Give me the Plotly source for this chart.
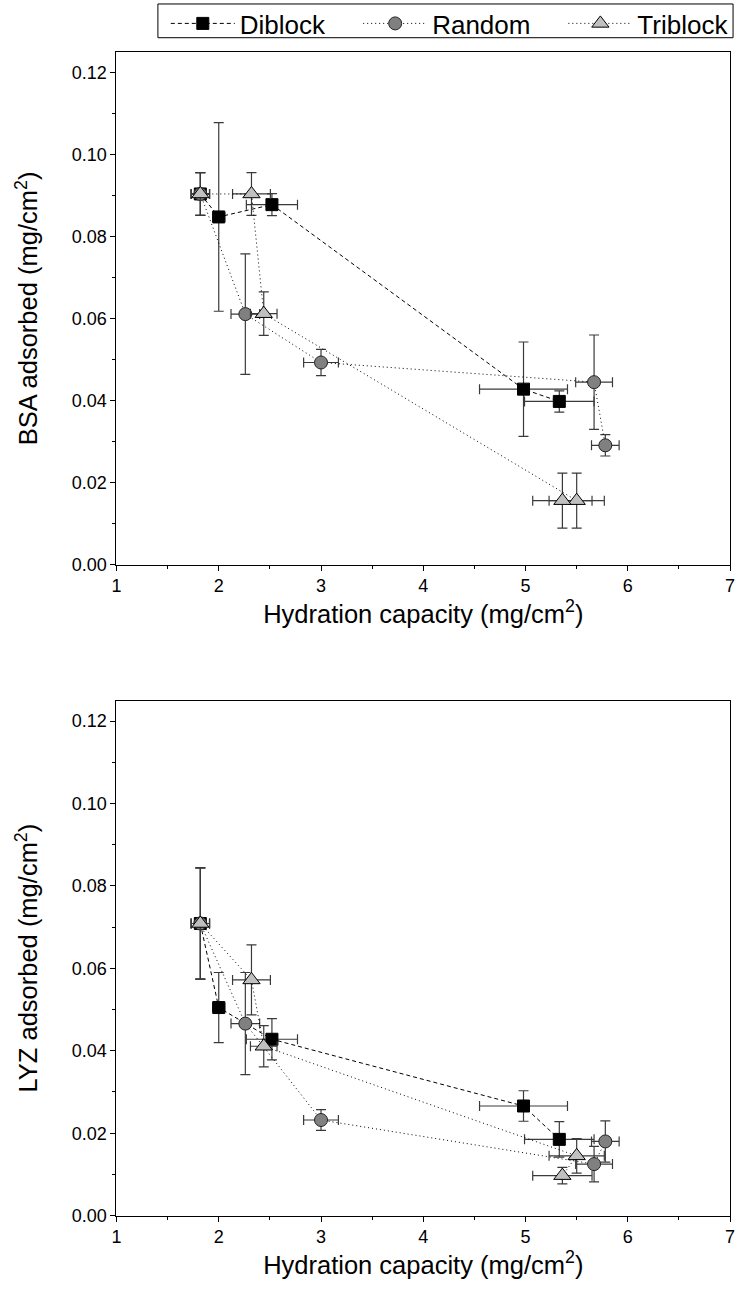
import plotly.graph_objects as go

# ---- data ----
series = ["Diblock", "Random", "Triblock"]

x_dib = [1.82, 2.00, 2.52, 4.98, 5.33]
xerr_dib = [0.09, 0.06, 0.25, 0.43, 0.34]
bsa_dib = [0.0904, 0.0848, 0.0878, 0.0428, 0.0398]
bsa_dib_err = [0.0052, 0.0230, 0.0027, 0.0115, 0.0026]
lyz_dib = [0.0709, 0.0505, 0.0428, 0.0266, 0.0185]
lyz_dib_err = [0.0135, 0.0085, 0.0050, 0.0037, 0.0043]

x_ran = [1.82, 2.26, 3.00, 5.67, 5.78]
xerr_ran = [0.09, 0.14, 0.17, 0.18, 0.135]
bsa_ran = [0.0904, 0.0611, 0.0493, 0.0445, 0.0291]
bsa_ran_err = [0.0052, 0.0147, 0.0032, 0.0115, 0.0026]
lyz_ran = [0.0709, 0.0466, 0.0232, 0.0125, 0.0180]
lyz_ran_err = [0.0135, 0.0124, 0.0025, 0.0043, 0.0050]

x_tri = [1.82, 2.32, 2.44, 5.50, 5.36]
xerr_tri = [0.09, 0.185, 0.13, 0.27, 0.29]
bsa_tri = [0.0904, 0.0904, 0.0612, 0.0156, 0.0156]
bsa_tri_err = [0.0052, 0.0052, 0.0053, 0.0067, 0.0067]
lyz_tri = [0.0709, 0.0572, 0.0411, 0.0145, 0.0097]
lyz_tri_err = [0.0135, 0.0085, 0.0050, 0.0042, 0.0020]

x_ticks = [1, 2, 3, 4, 5, 6, 7]
y_ticks = [0.00, 0.02, 0.04, 0.06, 0.08, 0.10, 0.12]

FONT = "Liberation Sans"
ERRC = "#3a3a3a"

styles = {
    "Diblock": dict(symbol="square", size=12, color="black", lcol="black", dash="4px,3px"),
    "Random": dict(symbol="circle", size=13, color="#808080", lcol="#222222", dash="1px,3px"),
    "Triblock": dict(symbol="triangle-up", size=15, color="#c0c0c0", lcol="black", dash="1px,3px"),
}
legend_ids = {"Diblock": "legend", "Random": "legend2", "Triblock": "legend3"}

panels = [
    ("x", "y", [bsa_dib, bsa_ran, bsa_tri], [bsa_dib_err, bsa_ran_err, bsa_tri_err], True),
    ("x2", "y2", [lyz_dib, lyz_ran, lyz_tri], [lyz_dib_err, lyz_ran_err, lyz_tri_err], False),
]
xs = [x_dib, x_ran, x_tri]
xes = [xerr_dib, xerr_ran, xerr_tri]

fig = go.Figure()
for xa, ya, ys, yes, show in panels:
    for i, name in enumerate(series):
        st = styles[name]
        fig.add_trace(go.Scatter(
            x=xs[i], y=ys[i], name=name, mode="lines+markers",
            xaxis=xa, yaxis=ya, showlegend=show, legendgroup=name,
            legend=legend_ids[name],
            line=dict(color="black", width=1, dash=st["dash"]),
            marker=dict(symbol=st["symbol"], size=st["size"], color=st["color"],
                        line=dict(color=st["lcol"], width=1)),
            error_x=dict(type="data", array=xes[i], color=ERRC, thickness=1.2, width=5),
            error_y=dict(type="data", array=yes[i], color=ERRC, thickness=1.2, width=5),
        ))

W, H = 742, 1303
xdom = [113 / W, 735 / W]
top_dom = [1 - 569 / H, 1 - 52.5 / H]
bot_dom = [1 - 1225 / H, 1 - 706 / H]

def xaxis(dom_anchor):
    return dict(
        domain=xdom, anchor=dom_anchor, range=[1, 7], tickvals=x_ticks,
        ticktext=[str(v) for v in x_ticks], ticklabeloverflow="allow",
        ticks="outside", ticklen=5, tickwidth=1, tickcolor="black",
        minor=dict(dtick=0.5, ticks="outside", ticklen=3, tickcolor="black", showgrid=False),
        showline=True, linecolor="black", linewidth=1, mirror=True,
        showgrid=False, zeroline=False,
        tickfont=dict(family=FONT, size=18, color="black"),
        title=dict(text="Hydration capacity (mg/cm<sup>2</sup>)",
                   font=dict(family=FONT, size=25.5, color="black"), standoff=2),
    )

def yaxis(dom, anchor, title):
    return dict(
        domain=dom, anchor=anchor, range=[0, 0.125], tickvals=y_ticks,
        ticktext=[f"{v:.2f}" for v in y_ticks], ticklabeloverflow="allow",
        ticks="outside", ticklen=5, tickwidth=1, tickcolor="black",
        minor=dict(dtick=0.01, ticks="outside", ticklen=3, tickcolor="black", showgrid=False),
        showline=True, linecolor="black", linewidth=1, mirror=True,
        showgrid=False, zeroline=False,
        tickfont=dict(family=FONT, size=18, color="black"),
        title=dict(text=title, font=dict(family=FONT, size=25.5, color="black"), standoff=26),
    )

def legend_at(px):
    return dict(
        orientation="h", x=px / W, y=1.0, xanchor="left", yanchor="top",
        borderwidth=0, bgcolor="rgba(0,0,0,0)",
        font=dict(family=FONT, size=26, color="black"),
        itemwidth=64, tracegroupgap=0,
    )

fig.update_layout(
    width=W, height=H, autosize=False,
    margin=dict(l=0, r=0, t=0, b=0),
    paper_bgcolor="white", plot_bgcolor="white",
    xaxis=xaxis("y"),
    yaxis=yaxis(top_dom, "x", "BSA adsorbed (mg/cm<sup>2</sup>)"),
    xaxis2=xaxis("y2"),
    yaxis2=yaxis(bot_dom, "x2", "LYZ adsorbed (mg/cm<sup>2</sup>)"),
    legend=legend_at(163),
    legend2=legend_at(358),
    legend3=legend_at(566),
    shapes=[dict(type="rect", xref="paper", yref="paper",
                 x0=155 / W, x1=738 / W, y0=1 - 38 / H, y1=1 - 4 / H,
                 line=dict(color="black", width=1), fillcolor="rgba(0,0,0,0)")],
    font=dict(family=FONT, color="black"),
)

fig.write_html("out.html", config={"displayModeBar": False},
               post_script="document.body.style.margin='0';")
